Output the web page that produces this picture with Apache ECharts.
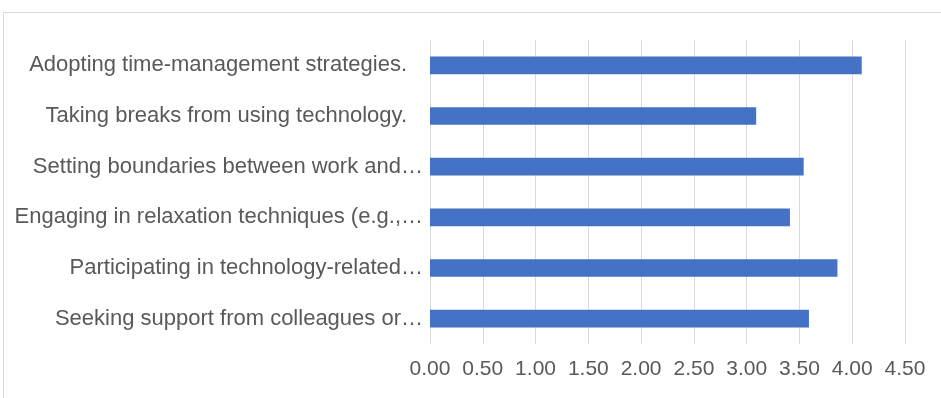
<!DOCTYPE html>
<html>
<head>
<meta charset="utf-8">
<script src="https://cdn.jsdelivr.net/npm/echarts@6/dist/echarts.min.js"></script>
<style>
html,body{margin:0;padding:0;background:#fff;}
#chart{width:941px;height:398px;}
</style>
</head>
<body>
<div id="chart"></div>
<script>
var categories = [
  "Adopting time-management strategies.",
  "Taking breaks from using technology.",
  "Setting boundaries between work and\u2026",
  "Engaging in relaxation techniques (e.g.,\u2026",
  "Participating in technology-related\u2026",
  "Seeking support from colleagues or\u2026"
];
var values = [4.09, 3.09, 3.54, 3.41, 3.86, 3.59];
var tickMin = 0, tickMax = 4.5, tickStep = 0.5;

var chart = echarts.init(document.getElementById('chart'));
chart.setOption({
  animation: false,
  backgroundColor: '#ffffff',
  graphic: [{
    type: 'rect', silent: true,
    shape: { x: 3.5, y: 12.5, width: 1000, height: 500 },
    style: { fill: 'none', stroke: '#d9d9d9', lineWidth: 1 }
  }],
  grid: { left: 430, right: 36, top: 40, bottom: 54, containLabel: false },
  xAxis: {
    type: 'value', min: tickMin, max: tickMax, interval: tickStep,
    axisLine: { show: false }, axisTick: { show: false },
    splitLine: { show: true, lineStyle: { color: '#d9d9d9', width: 1 } },
    axisLabel: {
      color: '#595959', fontFamily: 'Liberation Sans', fontSize: 21, margin: 15,
      formatter: function (v) { return v.toFixed(2); }
    }
  },
  yAxis: {
    type: 'category', data: categories, inverse: true,
    axisLine: { show: true, lineStyle: { color: '#d9d9d9', width: 1 } },
    axisTick: { show: false },
    axisLabel: {
      color: '#595959', fontFamily: 'Liberation Sans', fontSize: 22, margin: 7,
      formatter: function (v) {
        return v.charAt(v.length - 1) === '\u2026' ? v : v + '{s|}';
      },
      rich: { s: { width: 16 } }
    }
  },
  series: [{
    type: 'bar', data: values, barWidth: '35%',
    itemStyle: { color: '#4472C4' }
  }]
});
</script>
</body>
</html>
